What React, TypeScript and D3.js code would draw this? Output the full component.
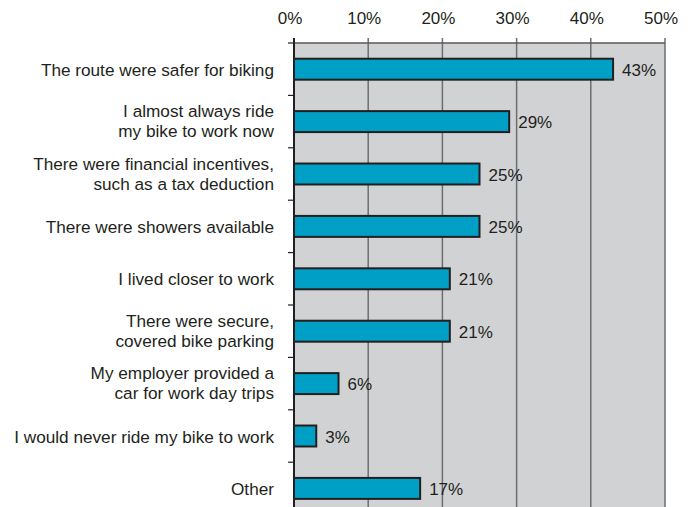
import React from "react";
import * as d3 from "d3";

const categories: string[][] = [
  ["The route were safer for biking"],
  ["I almost always ride", "my bike to work now"],
  ["There were financial incentives,", "such as a tax deduction"],
  ["There were showers available"],
  ["I lived closer to work"],
  ["There were secure,", "covered bike parking"],
  ["My employer provided a", "car for work day trips"],
  ["I would never ride my bike to work"],
  ["Other"],
];
const values: number[] = [43, 29, 25, 25, 21, 21, 6, 3, 17];
const ticks: number[] = [0, 10, 20, 30, 40, 50];

const W = 691;
const H = 507;
const left = 294;
const right = 665;
const top = 43;
const band = 52.4;

export default function App() {
  const x = d3.scaleLinear().domain([0, 50]).range([left, right]);
  const y = d3
    .scaleBand<number>()
    .domain(d3.range(categories.length))
    .range([top, top + band * categories.length])
    .paddingInner(0.6)
    .paddingOuter(0.3);
  const font = "Liberation Sans, Arial, Helvetica, sans-serif";
  const txt = "#231f20";
  const bottom = H + 10;
  return (
    <svg
      width={W}
      height={H}
      style={{ position: "absolute", left: 0, top: 0, background: "#fff" }}
      fontFamily={font}
    >
      <rect x={left} y={top} width={right - left} height={bottom - top} fill="#d1d2d4" />
      {ticks.map((t) => (
        <g key={t}>
          <line x1={x(t)} x2={x(t)} y1={top - 5} y2={bottom} stroke="#6d6e71" strokeWidth={1.5} />
          <text x={x(t) - 4} y={24} textAnchor="middle" fontSize={17} fill={txt}>
            {t}%
          </text>
        </g>
      ))}
      <line x1={left} x2={right} y1={top} y2={top} stroke="#58595b" strokeWidth={1.5} />
      <line x1={left} x2={left} y1={top - 5} y2={bottom} stroke="#231f20" strokeWidth={2} />
      {d3.range(categories.length + 1).map((i) => (
        <line
          key={i}
          x1={left - 6}
          x2={left}
          y1={top + i * band}
          y2={top + i * band}
          stroke="#231f20"
          strokeWidth={1.2}
        />
      ))}
      {values.map((v, i) => {
        const y0 = y(i)!;
        const bh = y.bandwidth();
        const cy = y0 + bh / 2;
        const lines = categories[i];
        return (
          <g key={i}>
            <rect
              x={x(0)}
              y={y0}
              width={x(v) - x(0)}
              height={bh}
              fill="#00a0c6"
              stroke="#231f20"
              strokeWidth={2}
            />
            <text x={x(v) + 9} y={cy + 6.5} fontSize={17} fill={txt}>
              {v}%
            </text>
            {lines.map((l, j) => (
              <text
                key={j}
                x={274}
                y={cy + 6.5 + (j - (lines.length - 1) / 2) * 20 + (lines.length > 1 ? -1 : 0)}
                textAnchor="end"
                fontSize={17.2}
                fill={txt}
              >
                {l}
              </text>
            ))}
          </g>
        );
      })}
    </svg>
  );
}
